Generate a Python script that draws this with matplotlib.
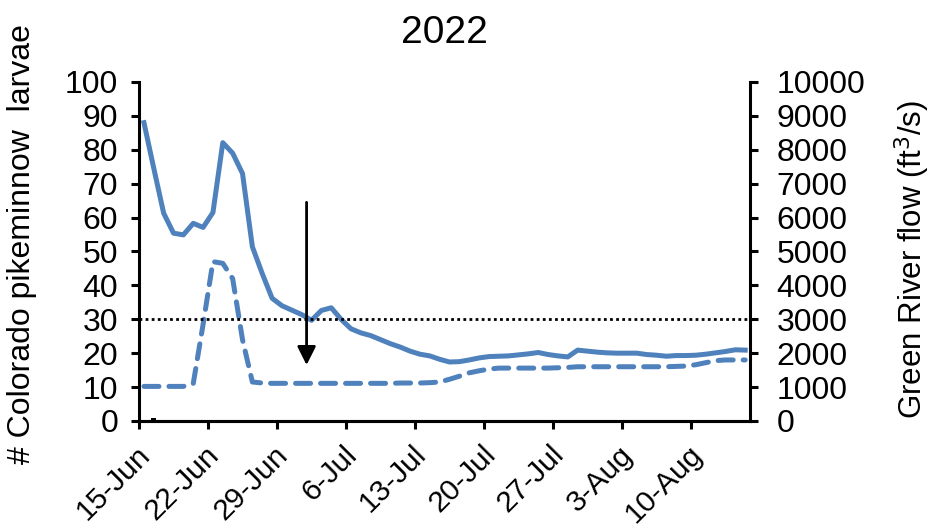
import datetime as dt
import matplotlib
matplotlib.use("Agg")
import matplotlib.pyplot as plt
import matplotlib.transforms as mtransforms

plt.rcParams['font.family'] = ['Liberation Sans', 'DejaVu Sans']

# Daily mean flows (ft3/s), 15-Jun through 15-Aug 2022
start = dt.datetime(2022, 6, 15, 12)
flow_main = [8800, 7450, 6130, 5540, 5490, 5830, 5710, 6150, 8210, 7900,
             7300, 5140, 4350, 3620, 3400, 3270, 3140, 2970, 3260, 3340,
             3000, 2720, 2600, 2520, 2400, 2280, 2180, 2060, 1970, 1920,
             1820, 1740, 1750, 1800, 1860, 1900, 1910, 1920, 1950, 1980,
             2020, 1960, 1920, 1890, 2090, 2060, 2030, 2010, 2000, 2000,
             2000, 1960, 1940, 1910, 1930, 1930, 1940, 1970, 2010, 2050,
             2100, 2090]
flow_comp = [1020, 1020, 1020, 1020, 1020, 1100, 2850, 4700, 4650, 4200,
             2400, 1150, 1120, 1110, 1110, 1110, 1110, 1110, 1110, 1110,
             1110, 1110, 1110, 1110, 1110, 1110, 1120, 1120, 1120, 1130,
             1150, 1230, 1320, 1420, 1480, 1530, 1560, 1560, 1560, 1560,
             1560, 1560, 1570, 1580, 1600, 1600, 1600, 1600, 1600, 1600,
             1600, 1600, 1600, 1600, 1610, 1620, 1660, 1720, 1780, 1800,
             1800, 1800]
dates = [start + dt.timedelta(days=i) for i in range(len(flow_main))]

# Larval catch
larvae_dates = [dt.datetime(2022, 6, 16, 12)]
larvae_counts = [1]

flow_threshold = 3000
arrow_date = dt.datetime(2022, 7, 2)
arrow_top, arrow_bottom = 6450, 1650

tick_dates = [dt.datetime(2022, 6, 15) + dt.timedelta(days=7 * k) for k in range(9)]
tick_labels = ['15-Jun', '22-Jun', '29-Jun', '6-Jul', '13-Jul', '20-Jul',
               '27-Jul', '3-Aug', '10-Aug']

blue = '#4F81BD'
fig = plt.figure(figsize=(9.33, 5.31), dpi=100)
ax = fig.add_axes([0.149, 0.2072, 0.655, 0.6384])
ax2 = ax.twinx()

ax.bar(larvae_dates, larvae_counts, width=0.5, color='black', zorder=3)
ax.set_ylim(0, 100)
ax.set_yticks(range(0, 101, 10))

ax2.plot(dates, flow_main, color=blue, lw=3.6, solid_joinstyle='round')
ax2.plot(dates, flow_comp, color=blue, lw=3.6, dashes=(3.0, 2.0),
         dash_capstyle='round')
ax2.plot([dt.datetime(2022, 6, 15), dt.datetime(2022, 8, 16)],
         [flow_threshold, flow_threshold], color='black', lw=2.0,
         dashes=(1, 1.2))
ax2.annotate('', xy=(arrow_date, arrow_bottom), xytext=(arrow_date, arrow_top),
             arrowprops=dict(arrowstyle='-|>', color='black', lw=2.0,
                             mutation_scale=28, shrinkA=0, shrinkB=0))
ax2.set_ylim(0, 10000)
ax2.set_yticks(range(0, 10001, 1000))

ax.set_xlim(dt.datetime(2022, 6, 15), dt.datetime(2022, 8, 16))
ax.set_xticks(tick_dates)
ax.set_xticklabels(tick_labels, rotation=45, ha='right', va='center',
                   rotation_mode='anchor')

for a in (ax, ax2):
    for side in ('left', 'right', 'bottom'):
        a.spines[side].set_linewidth(2.2)
    a.spines['top'].set_visible(False)
    a.tick_params(width=2.2, length=6, labelsize=23, direction='out')
ax.tick_params(axis='y', pad=9)
ax.tick_params(axis='x', pad=15, labelsize=21.5)
ax2.tick_params(axis='y', pad=13)
ax2.spines['left'].set_visible(False)
ax.spines['right'].set_visible(False)

# nudge the slanted date labels to the right
shift = mtransforms.ScaledTranslation(5 / 72, 0, fig.dpi_scale_trans)
for lab in ax.get_xticklabels():
    lab.set_transform(lab.get_transform() + shift)

ax.set_ylabel('# Colorado pikeminnow  larvae', fontsize=23)
ax.yaxis.set_label_coords(-0.167, 0.522)
ax2.set_ylabel('Green River flow (ft$^3$/s)', fontsize=22.5)
ax2.yaxis.set_label_coords(1.233, 0.475)
ax.set_title('2022', fontsize=28, pad=28)

fig.savefig('out.png', dpi=100)
